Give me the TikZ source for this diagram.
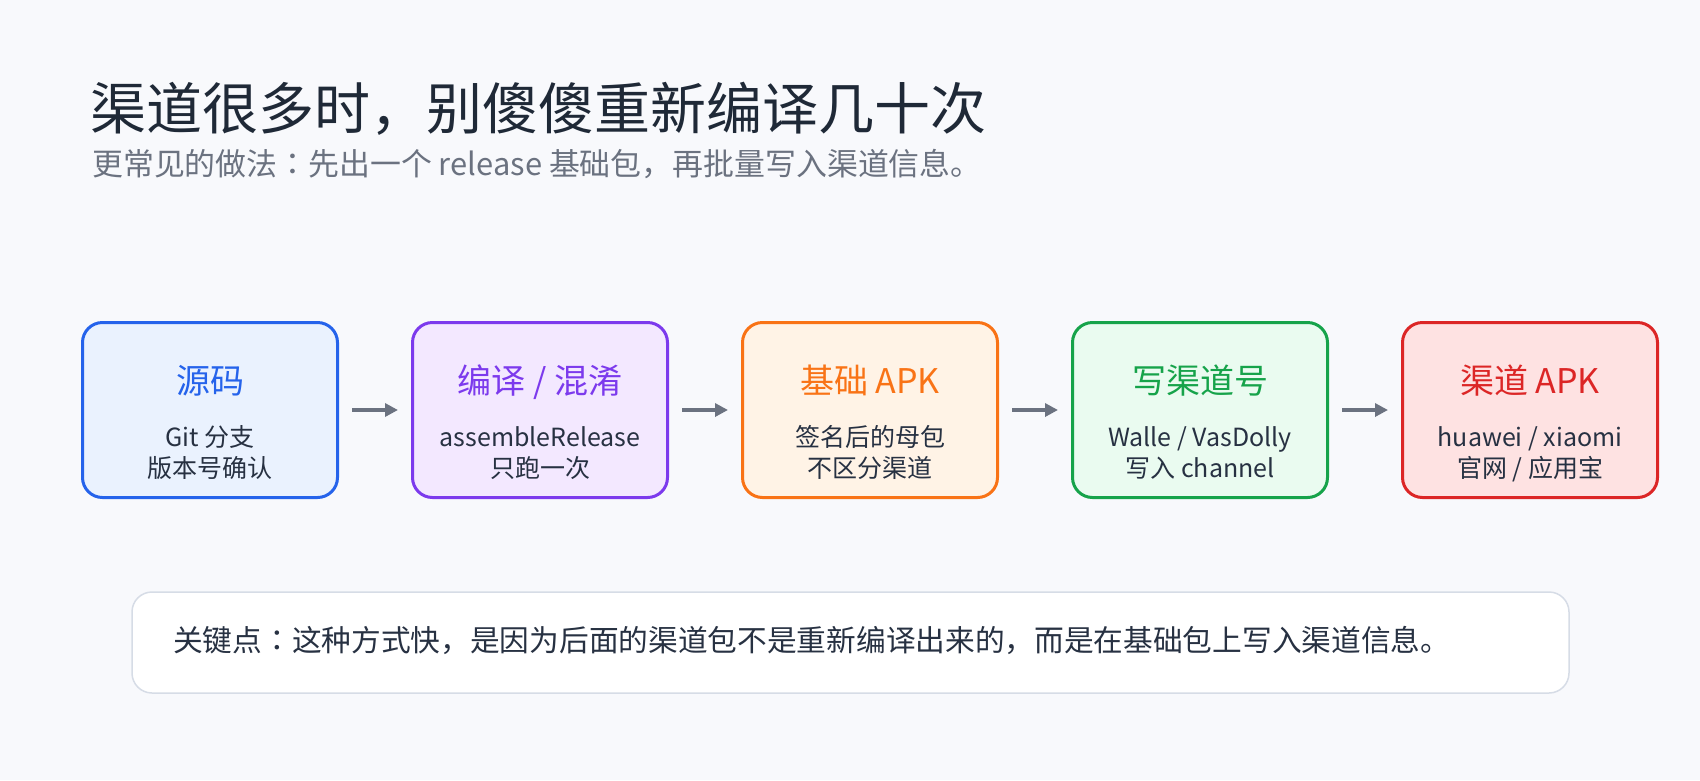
\documentclass[tikz,border=0pt]{standalone}
\usepackage{fontspec}
\setmainfont{Noto Sans CJK SC}
\newfontfamily\jpfont{Noto Sans CJK JP}
\newcommand{\jcolon}{{\jpfont ：}}
\usetikzlibrary{arrows.meta}
\definecolor{bgc}{HTML}{F8F9FC}
\definecolor{titlec}{HTML}{1F2937}
\definecolor{subc}{HTML}{6B7280}
\definecolor{bodyc}{HTML}{273142}
\definecolor{arrc}{HTML}{6B7280}
\definecolor{blueB}{HTML}{2563EB}\definecolor{blueF}{HTML}{EAF2FE}
\definecolor{purB}{HTML}{7C3AED}\definecolor{purF}{HTML}{F3E8FF}
\definecolor{oraB}{HTML}{F97316}\definecolor{oraF}{HTML}{FFF3E6}
\definecolor{grnB}{HTML}{16A34A}\definecolor{grnF}{HTML}{EAFBF0}
\definecolor{redB}{HTML}{DC2626}\definecolor{redF}{HTML}{FEE2E2}
\definecolor{noteB}{HTML}{D6DCE6}
\begin{document}
\begin{tikzpicture}[x=1pt,y=-1pt,
  stage/.style={draw, line width=3pt, rounded corners=20pt, minimum width=255pt, minimum height=175pt, inner sep=0pt},
  stitle/.style={anchor=base, inner sep=0pt, font=\fontsize{34}{38}\selectfont},
  sbody/.style={anchor=base, inner sep=0pt, text=bodyc, font=\fontsize{25}{29}\selectfont},
  arr/.style={draw=arrc, line width=4pt, -{Triangle[length=13pt,width=13pt]}, shorten <=13pt, shorten >=13pt},
  note/.style={draw=noteB, fill=white, line width=1.5pt, rounded corners=20pt, minimum width=1437pt, minimum height=101pt, inner sep=0pt}
]
\fill[bgc] (0,0) rectangle (1700,780);
\useasboundingbox (0,0) rectangle (1700,780);

\node[anchor=base west, inner sep=0pt, text=titlec, font=\fontsize{56}{60}\selectfont] (title) at (90,129) {渠道很多时，别傻傻重新编译几十次};
\node[anchor=base west, inner sep=0pt, text=subc, font=\fontsize{30.9}{34}\selectfont] (sub) at (92,175) {更常见的做法\jcolon 先出一个 release 基础包，再批量写入渠道信息。};

% stages
\node[stage, draw=blueB, fill=blueF] (b1) at (210,410) {};
\node[stage, draw=purB, fill=purF] (b2) at (540,410) {};
\node[stage, draw=oraB, fill=oraF] (b3) at (870,410) {};
\node[stage, draw=grnB, fill=grnF] (b4) at (1200,410) {};
\node[stage, draw=redB, fill=redF] (b5) at (1530,410) {};

\node[stitle, text=blueB] (t1) at (210,393) {源码};
\node[sbody] (d1a) at (210,446) {Git 分支};
\node[sbody] (d1b) at (210,477) {版本号确认};

\node[stitle, text=purB] (t2) at (540,393) {编译 / 混淆};
\node[sbody] (d2a) at (540,446) {assembleRelease};
\node[sbody] (d2b) at (540,477) {只跑一次};

\node[stitle, text=oraB] (t3) at (870,393) {基础 APK};
\node[sbody] (d3a) at (870,446) {签名后的母包};
\node[sbody] (d3b) at (870,477) {不区分渠道};

\node[stitle, text=grnB] (t4) at (1200,393) {写渠道号};
\node[sbody] (d4a) at (1200,446) {Walle / VasDolly};
\node[sbody] (d4b) at (1200,477) {写入 channel};

\node[stitle, text=redB] (t5) at (1530,393) {渠道 APK};
\node[sbody] (d5a) at (1530,446) {huawei / xiaomi};
\node[sbody] (d5b) at (1530,477) {官网 / 应用宝};

\draw[arr] (b1) -- (b2);
\draw[arr] (b2) -- (b3);
\draw[arr] (b3) -- (b4);
\draw[arr] (b4) -- (b5);

% note
\node[note] (nb) at (850.5,642.5) {};
\node[anchor=base west, inner sep=0pt, text=bodyc, font=\fontsize{29.7}{33}\selectfont] (nt) at (173,651) {关键点\jcolon 这种方式快，是因为后面的渠道包不是重新编译出来的，而是在基础包上写入渠道信息。};
\end{tikzpicture}
\end{document}
